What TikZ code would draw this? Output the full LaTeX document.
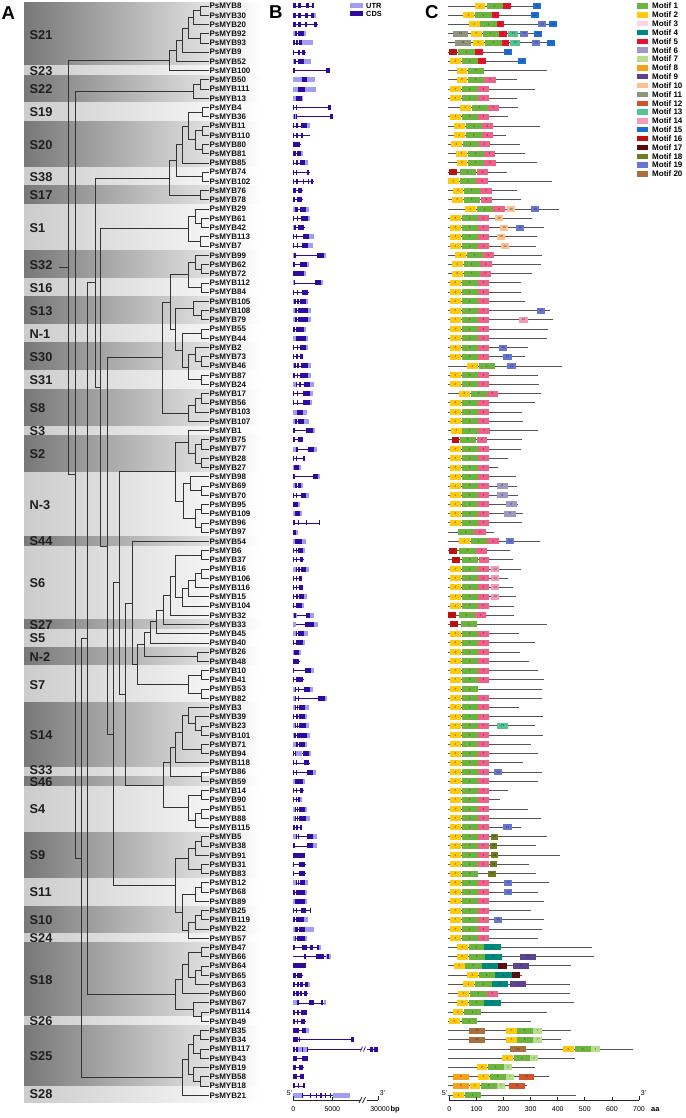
\documentclass[tikz,border=0pt]{standalone}
\usepackage{fontspec}
\setmainfont{Liberation Sans}
\usetikzlibrary{calc}
\definecolor{bandD}{gray}{0.47}
\definecolor{bandL}{gray}{0.80}
\definecolor{treec}{HTML}{333333}
\definecolor{utrc}{HTML}{A09DF3}
\definecolor{cdsc}{HTML}{2E0A9E}
\definecolor{protc}{HTML}{555555}
\definecolor{mc1}{HTML}{6DB33F}
\definecolor{mc2}{HTML}{FFC90E}
\definecolor{mc3}{HTML}{EE6189}
\definecolor{mc3L}{HTML}{FFD3E3}
\definecolor{mc4}{HTML}{00897B}
\definecolor{mc5}{HTML}{E8112D}
\definecolor{mc6}{HTML}{9E9AC4}
\definecolor{mc7}{HTML}{B7DD8E}
\definecolor{mc8}{HTML}{F7A11A}
\definecolor{mc9}{HTML}{5E4392}
\definecolor{mc10}{HTML}{FFBF8E}
\definecolor{mc11}{HTML}{8D957A}
\definecolor{mc12}{HTML}{D2542C}
\definecolor{mc13}{HTML}{55C292}
\definecolor{mc14}{HTML}{F39AB8}
\definecolor{mc15}{HTML}{1C6ED3}
\definecolor{mc16}{HTML}{C3100F}
\definecolor{mc17}{HTML}{5A0B0B}
\definecolor{mc18}{HTML}{6E7E1F}
\definecolor{mc19}{HTML}{6677D2}
\definecolor{mc20}{HTML}{A8703C}
\tikzset{
 gene/.style={anchor=west, inner sep=0.8pt, font=\fontsize{8}{8}\selectfont\bfseries, text=black!92, text height=5.7pt, text depth=0pt},
 sg/.style={anchor=west, inner sep=0pt, font=\fontsize{12.8}{13}\selectfont\bfseries, text=black!88, text height=9.2pt, text depth=0pt},
 panel/.style={anchor=base west, inner sep=0pt, font=\fontsize{18.6}{19}\selectfont\bfseries},
 br/.style={draw=treec, line width=0.75pt},
 intron/.style={draw=cdsc, line width=0.7pt},
 utr/.style={fill=utrc},
 cds/.style={fill=cdsc},
 prot/.style={draw=protc, line width=0.9pt},
 motlab/.style={inner sep=0pt, font=\fontsize{3}{3}\selectfont, text=black!80},
 leg/.style={anchor=west, inner sep=0pt, font=\fontsize{8}{8}\selectfont\bfseries, text height=5.7pt, text depth=0pt},
 axl/.style={inner sep=0pt, font=\fontsize{7}{7}\selectfont, text height=5pt, text depth=0pt},
 axb/.style={inner sep=0pt, font=\fontsize{7.4}{7}\selectfont\bfseries, text height=5pt, text depth=0pt},
 axline/.style={draw=black!85, line width=0.7pt},
}
\newcommand\TN[4]{\path let \p1=($(#3)!0.5!(#4)$) in (#2pt,\y1) coordinate (#1);\draw[br] (#1) |- (#3);\draw[br] (#1) |- (#4);}
\newcommand\Band[5]{\shade[left color=#3, right color=white] (24,#1) rectangle (262,#2);\node[sg] (#4) at (29.5,{(#1+#2)/2}) {#5};}
\newcommand\Gst[4]{\pgfmathsetmacro\ry{6+(#1-1)*9.23}%
 \draw[intron] (293.3,\ry) -- (293.3+#2,\ry);%
 \foreach \uA/\uB in {#3}{\fill[utr] (293.3+\uA,\ry-2.5) rectangle (293.3+\uB,\ry+2.5);}%
 \foreach \uA/\uB in {#4}{\fill[cds] (293.3+\uA,\ry-2.5) rectangle (293.3+\uB,\ry+2.5);}}
\newcommand\Mrow[3]{\pgfmathsetmacro\ry{6+(#1-1)*9.23}%
 \draw[prot] (448,\ry) -- (#2,\ry);%
 \edef\mlist{#3}%
 \foreach \mA/\mB/\mC/\mL in \mlist {\fill[\mC] (\mA,\ry-3) rectangle (\mB,\ry+3);%
  \node[motlab] (mt#1-\mL) at ({(\mA+\mB)/2},\ry) {\mL};}}
\def\Sstd{450/461/mc2/2,462/478/mc1/1,478/489/mc3/3}
\begin{document}
\begin{tikzpicture}[x=1pt,y=-1pt]
\useasboundingbox (0,0) rectangle (685,1118);
% ---------- bands ----------
\Band{3}{66}{bandD}{b1}{S21}
\Band{66}{75.2}{bandL}{b2}{S23}
\Band{75.2}{102.9}{bandD}{b3}{S22}
\Band{102.9}{121.4}{bandL}{b4}{S19}
\Band{121.4}{167.5}{bandD}{b5}{S20}
\Band{167.5}{186}{bandL}{b6}{S38}
\Band{186}{204.5}{bandD}{b7}{S17}
\Band{204.5}{250.6}{bandL}{b8}{S1}
\Band{250.6}{278.3}{bandD}{b9}{S32}
\Band{278.3}{296.7}{bandL}{b10}{S16}
\Band{296.7}{324.4}{bandD}{b11}{S13}
\Band{324.4}{342.9}{bandL}{b12}{N-1}
\Band{342.9}{370.6}{bandD}{b13}{S30}
\Band{370.6}{389}{bandL}{b14}{S31}
\Band{389}{426}{bandD}{b15}{S8}
\Band{426}{435.2}{bandL}{b16}{S3}
\Band{435.2}{472.1}{bandD}{b17}{S2}
\Band{472.1}{536.7}{bandL}{b18}{N-3}
\Band{536.7}{546}{bandD}{b19}{S44}
\Band{546}{619.8}{bandL}{b20}{S6}
\Band{619.8}{629}{bandD}{b21}{S27}
\Band{629}{647.5}{bandL}{b22}{S5}
\Band{647.5}{665.9}{bandD}{b23}{N-2}
\Band{665.9}{702.9}{bandL}{b24}{S7}
\Band{702.9}{767.5}{bandD}{b25}{S14}
\shade[left color=bandL, right color=white] (24,767.5) rectangle (262,776.7);
\shade[left color=bandD, right color=white] (24,776.7) rectangle (262,786);
\node[sg] (b26) at (29.5,770.2) {S33};
\node[sg] (b27) at (29.5,781.6) {S46};
\Band{786}{832.1}{bandL}{b28}{S4}
\Band{832.1}{878.2}{bandD}{b29}{S9}
\Band{878.2}{906}{bandL}{b30}{S11}
\Band{906}{933.6}{bandD}{b31}{S10}
\Band{933.6}{942.8}{bandL}{b32}{S24}
\Band{942.8}{1016.7}{bandD}{b33}{S18}
\Band{1016.7}{1025.9}{bandL}{b34}{S26}
\Band{1025.9}{1086}{bandD}{b35}{S25}
\Band{1086}{1102}{bandL}{b36}{S28}
% ---------- panel letters ----------
\node[panel] (pA) at (1.5,19.3) {A};
\node[panel] (pB) at (269,18.3) {B};
\node[panel] (pC) at (425,18.2) {C};
% ---------- leaves ----------
\foreach \g [count=\i] in {8,30,20,92,93,9,52,100,50,111,13,4,36,11,110,80,81,85,74,102,76,78,29,61,42,113,7,99,62,72,112,84,105,108,79,55,44,2,73,46,87,24,17,56,103,107,1,75,77,28,27,98,69,70,95,109,96,97,54,6,37,16,106,116,15,104,32,33,45,40,26,48,10,41,53,82,3,39,23,101,71,94,118,86,59,14,90,51,88,115,5,38,91,31,83,12,68,89,25,119,22,57,47,66,64,65,63,60,67,114,49,35,34,117,43,19,58,18,21}
{\pgfmathsetmacro\ry{6+(\i-1)*9.23}\node[gene] (r\i) at (208.5,\ry) {PsMYB\g};}
% ---------- tree ----------
\TN{a1}{200}{r1}{r2}
\TN{a2}{193}{a1}{r3}
\TN{a3}{200}{r4}{r5}
\TN{a4}{188}{a2}{a3}
\TN{a5}{182}{a4}{r6}
\TN{a6}{176}{a5}{r7}
\TN{a7}{169}{a6}{r8}
\TN{bb1}{200}{r9}{r10}
\TN{bb2}{193}{bb1}{r11}
\TN{c1}{202}{r12}{r13}
\TN{c2}{202}{r14}{r15}
\TN{c3}{202}{r16}{r17}
\TN{c4}{195}{c2}{c3}
\TN{c5}{188}{c1}{c4}
\TN{c6}{182}{c5}{r18}
\TN{c7}{202}{r19}{r20}
\TN{c8}{176}{c6}{c7}
\TN{c9}{200}{r21}{r22}
\TN{c10}{169}{c8}{c9}
\TN{d1}{201}{r24}{r25}
\TN{d2}{195}{r23}{d1}
\TN{d3}{200}{r26}{r27}
\TN{d4}{188}{d2}{d3}
\TN{e1}{201}{r29}{r30}
\TN{e2}{195}{r28}{e1}
\TN{e3}{201}{r31}{r32}
\TN{e4}{188}{e2}{e3}
\TN{e5}{201}{r34}{r35}
\TN{e6}{193}{r33}{e5}
\TN{e7}{201}{r36}{r37}
\TN{e8}{201}{r39}{r40}
\TN{e9}{195}{r38}{e8}
\TN{e10}{201}{r41}{r42}
\TN{e11}{188}{e9}{e10}
\TN{e12}{182}{e7}{e11}
\TN{e13}{175}{e6}{e12}
\TN{e14}{170}{e4}{e13}
\TN{e15}{201}{r43}{r44}
\TN{e16}{195}{e15}{r45}
\TN{e17}{188}{e16}{r46}
\TN{N7}{162}{e14}{e17}
\TN{f1}{201}{r48}{r49}
\TN{f2}{201}{r50}{r51}
\TN{f3}{195}{f1}{f2}
\TN{f4}{188}{r47}{f3}
\TN{g1}{201}{r53}{r54}
\TN{g2}{190}{r52}{g1}
\TN{g3}{201}{r55}{r56}
\TN{g4}{201}{r57}{r58}
\TN{g5}{195}{g3}{g4}
\TN{g6}{183}{g2}{g5}
\TN{f5}{175}{f4}{g6}
\TN{i1}{201}{r60}{r61}
\TN{i2}{201}{r62}{r63}
\TN{i3}{195}{i2}{r64}
\TN{i4}{188}{i3}{r65}
\TN{i5}{182}{i4}{r66}
\TN{i6}{175}{i1}{i5}
\TN{N18}{170}{i6}{r67}
\TN{N17}{163}{N18}{r68}
\TN{N16}{156}{N17}{r69}
\TN{N15}{150}{N16}{r70}
\TN{h1}{197}{r71}{r72}
\TN{N14}{144}{N15}{h1}
\TN{j1}{201}{r73}{r74}
\TN{j2}{201}{r75}{r76}
\TN{j3}{188}{j1}{j2}
\TN{N13}{137}{N14}{j3}
\TN{N11}{132}{r59}{N13}
\TN{k1}{201}{r79}{r80}
\TN{k2}{195}{r78}{k1}
\TN{k3}{188}{r77}{k2}
\TN{k4}{201}{r81}{r82}
\TN{k5}{182}{k3}{k4}
\TN{k6}{175}{k5}{r83}
\TN{k7}{201}{r84}{r85}
\TN{k8}{170}{k6}{k7}
\TN{l1}{201}{r86}{r87}
\TN{l2}{201}{r88}{r89}
\TN{l3}{195}{l2}{r90}
\TN{l4}{188}{l1}{l3}
\TN{N12}{163}{k8}{l4}
\TN{N10}{125}{N11}{N12}
\TN{N9}{119}{f5}{N10}
\TN{m1}{201}{r91}{r92}
\TN{m2}{195}{m1}{r93}
\TN{m3}{201}{r94}{r95}
\TN{m4}{188}{m2}{m3}
\TN{m5}{201}{r96}{r97}
\TN{m6}{195}{m5}{r98}
\TN{m7}{201}{r99}{r100}
\TN{m8}{195}{m7}{r101}
\TN{m9}{188}{m8}{r102}
\TN{m10}{182}{m6}{m9}
\TN{m11}{175}{m4}{m10}
\TN{N8}{113}{N9}{m11}
\TN{N6}{107}{N7}{N8}
\TN{N5}{100}{d4}{N6}
\TN{N4}{95}{c10}{N5}
\TN{n1}{201}{r103}{r104}
\TN{n2}{201}{r105}{r106}
\TN{n3}{195}{n2}{r107}
\TN{n4}{188}{n1}{n3}
\TN{n5}{182}{n4}{r108}
\TN{n6}{201}{r110}{r111}
\TN{n7}{193}{r109}{n6}
\TN{n8}{175}{n5}{n7}
\TN{N3}{87}{N4}{n8}
\TN{o1}{200}{r112}{r113}
\TN{o2}{200}{r114}{r115}
\TN{o3}{193}{o1}{o2}
\TN{o4}{200}{r117}{r118}
\TN{o5}{193}{r116}{o4}
\TN{o6}{188}{o3}{o5}
\TN{o7}{182}{o6}{r119}
\TN{N2}{81}{N3}{o7}
\TN{N1}{75}{bb2}{N2}
\TN{R}{68}{a7}{N1}
\coordinate (Rs) at ($(R)+(-9,0)$);
\draw[br] (R) -- (Rs);
% ---------- panel B legend ----------
\fill[utrc] (350,3) rectangle (363,8.5);
\node[axb,anchor=west] (lutr) at (366,5.8) {UTR};
\fill[cdsc] (350,11) rectangle (363,16.5);
\node[axb,anchor=west] (lcds) at (366,13.8) {CDS};
% ---------- gene structures ----------
\Gst{1}{21}{0/0}{0/3,5/8,13/15.5,18.5/21}
\Gst{2}{23}{20/23}{0/3,5/8,12/15,18/20.5}
\Gst{3}{25}{0/0}{0/3,5/8,12/14,21/24}
\Gst{4}{13}{0/1.5,11/13}{1.5/4,5/11}
\Gst{5}{20}{9/20}{0/2,3/5,6/9}
\Gst{6}{13}{0/0}{0/1,5/7,9/12}
\Gst{7}{18}{0/1,11/18}{1/3,5/11}
\Gst{8}{36}{0/0}{0/2,33/37}
\Gst{9}{22}{0/22}{9/14}
\Gst{10}{23}{0/23}{5/12}
\Gst{11}{10}{0/10}{3/9}
\Gst{12}{37}{0/0}{0/1,3/4,35/38}
\Gst{13}{40}{0/3}{1/2,3/4,37/40}
\Gst{14}{17}{14/17}{0/1,3/5,8/14}
\Gst{15}{17}{0/0}{0/1,3/5,8/9.5}
\Gst{16}{8}{0/0}{0/7}
\Gst{17}{10}{8/10}{0/3,4/8}
\Gst{18}{15}{12/15}{0/1,3/5,7/12}
\Gst{19}{17}{0/0}{0/1,3/4,14/16}
\Gst{20}{21}{0/0}{0/1,3/5,10/11,15/16,18/20}
\Gst{21}{10}{0/0}{0/3,5/9}
\Gst{22}{10}{0/0}{0/2,4/9}
\Gst{23}{16}{0/2,13/16}{2/5,7/13}
\Gst{24}{17}{15/17}{0/1,4/5,8/15}
\Gst{25}{12}{0/1}{1/3,5/11}
\Gst{26}{21}{16/21}{0/1,3/4,10/16}
\Gst{27}{20}{15/20}{0/1,4/5,9/15}
\Gst{28}{33}{0/1,31/33}{1/3,24/31}
\Gst{29}{16}{14/16}{0/2,7/14}
\Gst{30}{13}{11/13}{0/11}
\Gst{31}{30}{0/2,28/30}{1/2,22/28}
\Gst{32}{16}{0/0}{0/1,4/5,9/15}
\Gst{33}{15}{0/1,13/15}{1/3,4/6,7/13}
\Gst{34}{18}{0/2,15/18}{2/4,5/15}
\Gst{35}{18}{0/2,15/18}{2/4,5/15}
\Gst{36}{13}{11/13}{0/2,3/11}
\Gst{37}{15}{0/3,13/15}{3/13}
\Gst{38}{15}{13/15}{0/1,4/5,7/13}
\Gst{39}{10}{0/0}{0/1,3/5,7/10}
\Gst{40}{18}{0/1,15/18}{1/3,4/6,8/15}
\Gst{41}{18}{15/18}{0/2,4/5,7/15}
\Gst{42}{21}{0/3,17/21}{3/4,6/8,11/17}
\Gst{43}{20}{17/20}{0/1,4/5,10/17}
\Gst{44}{19}{17/19}{0/1,4/5,10/17}
\Gst{45}{14}{0/4,10/14}{4/10}
\Gst{46}{16}{0/2,11/16}{2/4,5/11}
\Gst{47}{22}{20/22}{0/2,13/20}
\Gst{48}{10}{0/0}{0/2,5/10}
\Gst{49}{24}{0/3,21/24}{3/5,15/21}
\Gst{50}{12}{0/0}{0/1,3/4,10/12}
\Gst{51}{8}{0/1,6/8}{1/6}
\Gst{52}{27}{0/1,25/27}{0/2,20/25}
\Gst{53}{10}{0/2,8/10}{2/4,5/8}
\Gst{54}{16}{13/16}{0/1,3/4,8/13}
\Gst{55}{7}{5/7}{0/5}
\Gst{56}{9}{0/2,7/9}{2/7}
\Gst{57}{27}{0/0}{0/2,5/6,13/14,26/27}
\Gst{58}{5}{3/5}{0/3}
\Gst{59}{13}{0/2,9/13}{2/9}
\Gst{60}{12}{10/12}{0/1,3/4,5/10}
\Gst{61}{11}{0/0}{0/1,3/4,7/10}
\Gst{62}{16}{0/3,13/16}{3/4,5/7,8/13}
\Gst{63}{9}{0/0}{0/1,3/4,6/9}
\Gst{64}{10}{0/0}{0/1,3/4,6/10}
\Gst{65}{14}{11/14}{0/1,3/5,6/11}
\Gst{66}{11}{9/11}{0/1,3/9}
\Gst{67}{21}{0/4,17/21}{1/3,13/17}
\Gst{68}{25}{0/3,21/25}{12/21}
\Gst{69}{15}{0/3,11/15}{3/4,5/11}
\Gst{70}{12}{10/12}{0/1,3/10}
\Gst{71}{8}{0/1,6/8}{1/6}
\Gst{72}{7}{0/0}{0/6}
\Gst{73}{21}{18/21}{0/1,12/18}
\Gst{74}{11}{0/0}{0/1,3/10}
\Gst{75}{20}{0/2,17/20}{2/3,5/6,11/17}
\Gst{76}{34}{0/2,32/34}{2/3,5/6,25/32}
\Gst{77}{16}{0/2,12/16}{2/3,4/5,6/12}
\Gst{78}{14}{12/14}{0/1,3/5,6/12}
\Gst{79}{16}{0/2,13/16}{2/3,4/5,6/13}
\Gst{80}{17}{0/1,14/17}{1/3,4/14}
\Gst{81}{14}{0/3,12/14}{3/5,6/12}
\Gst{82}{18}{3/9,16/18}{0/1,2/3,10/16}
\Gst{83}{17}{0/0}{0/1,3/4,11/16}
\Gst{84}{23}{20/23}{0/1,3/4,14/20}
\Gst{85}{12}{0/2,10/12}{2/10}
\Gst{86}{11}{0/0}{0/1,3/4,7/10}
\Gst{87}{9}{7/9}{0/1,3/4,5/7}
\Gst{88}{14}{0/2,12/14}{2/3,4/5,6/12}
\Gst{89}{17}{0/2,13/17}{2/3,4/5,5.5/13}
\Gst{90}{9}{0/0}{0/2,3/5,7/9}
\Gst{91}{24}{0/3,20/24}{3/4,5/6,14/20}
\Gst{92}{24}{0/1,20/24}{0/1.5,14/20}
\Gst{93}{12}{0/0}{0/12}
\Gst{94}{13}{0/0}{0/1,6/12}
\Gst{95}{13}{0/0}{0/1,6/12}
\Gst{96}{15}{0/3,12/15}{3/4,5/6,7/12}
\Gst{97}{14}{12/14}{0/2,3/12}
\Gst{98}{14}{0/2,12/14}{2/12}
\Gst{99}{18}{0/0}{0/1,3/4,8/13,17/18}
\Gst{100}{15}{11/15}{0/2,3/11}
\Gst{101}{21}{0/2,12/21}{2/5,6/12}
\Gst{102}{14}{0/2,12/14}{2/3,4/12}
\Gst{103}{28}{26/28}{0/2,9/14,17/20,24/26}
\Gst{104}{38}{33/38}{11/13,23/31,34/36}
\Gst{105}{13}{0/0}{0/13}
\Gst{106}{10}{0/0}{0/3,4/9}
\Gst{107}{17}{15/17}{0/2,4/6,7/10,12/15}
\Gst{108}{15}{0/0}{0/2,3/6,7/9,11/14}
\Gst{109}{33}{0/4,31/33}{4/6,16/21,28/30}
\Gst{110}{14}{0/0}{0/2,4/6,8/14}
\Gst{111}{13}{0/0}{0/2,4/5,8/12}
\Gst{112}{16}{13/16}{0/6,9/13}
\Gst{113}{61}{0/0}{0/5,5.5/6.5,58/61}
\Gst{114}{68}{5/9,10/14}{0/2,3/5,9/10,14/15}
\pgfmathsetmacro\ry{6+113*9.23}
\draw[intron] (367,\ry) -- (378,\ry);
\fill[cds] (370,\ry-2.5) rectangle (373,\ry+2.5);
\fill[cds] (374,\ry-2.5) rectangle (378,\ry+2.5);
\draw[intron] (360.5,\ry+2.5) -- (362.5,\ry-2.5);
\draw[intron] (363.5,\ry+2.5) -- (365.5,\ry-2.5);
\Gst{115}{15}{0/0}{0/4,9/15}
\Gst{116}{11}{0/0}{0/3,6/10}
\Gst{117}{11}{0/0}{0/4,7/11}
\Gst{118}{12}{0/0}{0/2,5/6,10/12}
\Gst{119}{57}{0/9,40/57}{9/10,17/18,23/24,27/29,32/33,37/38}
% ---------- panel B axis ----------
\draw[axline] (293.3,1100) -- (360,1100);
\draw[axline] (367,1100) -- (378,1100);
\draw[axline] (293.3,1100) -- (293.3,1096);
\draw[axline] (332.3,1100) -- (332.3,1097);
\draw[axline] (378,1100) -- (378,1096);
\draw[axline] (359,1103) -- (362,1097);
\draw[axline] (362.5,1103) -- (365.5,1097);
\node[axl] (b5p) at (289.5,1093) {5'};
\node[axl] (b3p) at (382.5,1093) {3'};
\node[axl] (bt0) at (293.3,1109) {0};
\node[axl] (bt1) at (332.3,1109) {5000};
\node[axl] (bt2) at (380,1109) {30000};
\node[axb,anchor=west] (bbp) at (390.5,1109) {bp};
% ---------- motifs ----------
\Mrow{1}{541}{475/485/mc2/2,487/503/mc1/1,503/511/mc5/5,533/541/mc15/15}
\Mrow{2}{539}{463/474/mc2/2,475/492/mc1/1,492/499/mc5/5,531/539/mc15/15}
\Mrow{3}{557}{469/480/mc2/2,480/497/mc1/1,497/504/mc5/5,538/546/mc19/19,549/557/mc15/15}
\Mrow{4}{542}{453/468/mc11/11,471/482/mc2/2,483/499/mc1/1,499/507/mc5/5,508/518/mc13/13,520/528/mc19/19,534/542/mc15/15}
\Mrow{5}{555}{455/471/mc11/11,473/484/mc2/2,485/502/mc1/1,502/509/mc5/5,510/520/mc13/13,532/540/mc19/19,547/555/mc15/15}
\Mrow{6}{512}{449/457/mc16/16,458/475/mc1/1,475/483/mc5/5,504/512/mc15/15}
\Mrow{7}{526}{450/461/mc2/2,462/478/mc1/1,478/486/mc5/5,518/526/mc15/15}
\Mrow{8}{547}{457/467/mc2/2,468/484/mc1/1}
\Mrow{9}{517}{457/467/mc2/2,468/484/mc1/1,484/496/mc3/3}
\Mrow{10}{535}{\Sstd}
\Mrow{11}{517}{\Sstd}
\Mrow{12}{518}{460/471/mc2/2,472/488/mc1/1,488/499/mc3/3}
\Mrow{13}{508}{\Sstd}
\Mrow{14}{540}{454/465/mc2/2,466/482/mc1/1,482/493/mc3/3}
\Mrow{15}{506}{454/465/mc2/2,466/482/mc1/1,482/493/mc3/3}
\Mrow{16}{520}{451/462/mc2/2,463/479/mc1/1,479/490/mc3/3}
\Mrow{17}{525}{456/467/mc2/2,468/484/mc1/1,484/495/mc3/3}
\Mrow{18}{537}{457/467/mc2/2,468/484/mc1/1,484/496/mc3/3}
\Mrow{19}{507}{449/457/mc16/16,460/476/mc1/1,477/488/mc3/3}
\Mrow{20}{552}{448/459/mc2/2,460/476/mc1/1,476/488/mc3/3}
\Mrow{21}{517}{453/463/mc2/2,464/480/mc1/1,480/492/mc3/3}
\Mrow{22}{521}{452/463/mc2/2,464/480/mc1/1,481/492/mc3/3}
\Mrow{23}{559}{465/476/mc2/2,477/493/mc1/1,493/505/mc3/3,507/515/mc10/10,531/539/mc19/19}
\Mrow{24}{532}{\Sstd,495/503/mc10/10}
\Mrow{25}{544}{\Sstd,500/508/mc10/10,516/524/mc19/19}
\Mrow{26}{537}{\Sstd,497/505/mc10/10}
\Mrow{27}{536}{\Sstd,501/509/mc10/10}
\Mrow{28}{542}{455/466/mc2/2,467/483/mc1/1,483/494/mc3/3}
\Mrow{29}{541}{452/463/mc2/2,464/480/mc1/1,480/492/mc3/3}
\Mrow{30}{532}{452/463/mc2/2,464/480/mc1/1,480/491/mc3/3}
\Mrow{31}{521}{\Sstd}
\Mrow{32}{521}{\Sstd}
\Mrow{33}{525}{\Sstd}
\Mrow{34}{550}{\Sstd,537/545/mc19/19}
\Mrow{35}{553}{\Sstd,519/528/mc14/14}
\Mrow{36}{548}{\Sstd}
\Mrow{37}{547}{\Sstd}
\Mrow{38}{528}{\Sstd,499/507/mc19/19}
\Mrow{39}{525}{\Sstd,503/512/mc19/19}
\Mrow{40}{562}{467/478/mc2/2,479/495/mc1/1,507/516/mc19/19}
\Mrow{41}{538}{\Sstd}
\Mrow{42}{539}{\Sstd}
\Mrow{43}{541}{459/470/mc2/2,471/487/mc1/1,487/498/mc3/3}
\Mrow{44}{535}{\Sstd}
\Mrow{45}{522}{\Sstd}
\Mrow{46}{523}{\Sstd}
\Mrow{47}{538}{451/462/mc2/2,462/478/mc1/1,478/490/mc3/3}
\Mrow{48}{522}{452/459/mc16/16,460/476/mc1/1,477/487/mc3/3}
\Mrow{49}{521}{\Sstd}
\Mrow{50}{508}{\Sstd}
\Mrow{51}{498}{\Sstd}
\Mrow{52}{516}{\Sstd}
\Mrow{53}{517}{\Sstd,497/508/mc6/6}
\Mrow{54}{518}{\Sstd,497/508/mc6/6}
\Mrow{55}{518}{\Sstd,506/517/mc6/6}
\Mrow{56}{523}{\Sstd,504/516/mc6/6}
\Mrow{57}{522}{\Sstd}
\Mrow{58}{494}{458/474/mc1/1,474/486/mc3/3}
\Mrow{59}{540}{459/470/mc2/2,471/487/mc1/1,487/499/mc3/3,506/514/mc19/19}
\Mrow{60}{510}{449/457/mc16/16,459/476/mc1/1,476/487/mc3/3}
\Mrow{61}{513}{452/460/mc16/16,462/478/mc1/1,479/489/mc3/3}
\Mrow{62}{521}{\Sstd,491/499/mc14/14}
\Mrow{63}{508}{\Sstd,491/499/mc14/14}
\Mrow{64}{513}{\Sstd,491/499/mc14/14}
\Mrow{65}{516}{\Sstd,491/499/mc14/14}
\Mrow{66}{514}{\Sstd}
\Mrow{67}{514}{448/456/mc16/16,459/475/mc1/1,475/486/mc3/3}
\Mrow{68}{547}{450/458/mc16/16,461/477/mc1/1}
\Mrow{69}{519}{\Sstd}
\Mrow{70}{535}{\Sstd}
\Mrow{71}{520}{\Sstd}
\Mrow{72}{529}{\Sstd}
\Mrow{73}{538}{\Sstd}
\Mrow{74}{544}{\Sstd}
\Mrow{75}{542}{450/461/mc2/2,462/478/mc1/1}
\Mrow{76}{542}{\Sstd}
\Mrow{77}{519}{\Sstd}
\Mrow{78}{543}{\Sstd}
\Mrow{79}{535}{\Sstd,497/508/mc13/13}
\Mrow{80}{543}{\Sstd}
\Mrow{81}{531}{\Sstd}
\Mrow{82}{538}{\Sstd}
\Mrow{83}{523}{\Sstd}
\Mrow{84}{542}{\Sstd,494/502/mc19/19}
\Mrow{85}{538}{\Sstd}
\Mrow{86}{508}{\Sstd}
\Mrow{87}{500}{\Sstd}
\Mrow{88}{528}{\Sstd}
\Mrow{89}{541}{\Sstd}
\Mrow{90}{521}{\Sstd,503/512/mc19/19}
\Mrow{91}{547}{\Sstd,491/498/mc18/18}
\Mrow{92}{536}{\Sstd,490/497/mc18/18}
\Mrow{93}{560}{\Sstd,491/498/mc18/18}
\Mrow{94}{529}{\Sstd,490/497/mc18/18}
\Mrow{95}{536}{450/461/mc2/2,462/478/mc1/1,488/496/mc18/18}
\Mrow{96}{549}{\Sstd,504/512/mc19/19}
\Mrow{97}{538}{\Sstd,504/512/mc19/19}
\Mrow{98}{544}{\Sstd}
\Mrow{99}{531}{\Sstd}
\Mrow{100}{544}{\Sstd,494/502/mc19/19}
\Mrow{101}{542}{\Sstd}
\Mrow{102}{538}{\Sstd}
\Mrow{103}{592}{457/468/mc2/2,469/484/mc1/1,484/501/mc4/4}
\Mrow{104}{594}{457/468/mc2/2,469/485/mc1/1,485/502/mc4/4,520/536/mc9/9}
\Mrow{105}{571}{454/465/mc2/2,465/482/mc1/1,482/498/mc4/4,498/507/mc17/17,513/529/mc9/9}
\Mrow{106}{522}{467/478/mc2/2,479/495/mc1/1,495/512/mc4/4,512/520/mc17/17}
\Mrow{107}{570}{463/474/mc2/2,475/492/mc1/1,492/508/mc4/4,510/526/mc9/9}
\Mrow{108}{570}{458/469/mc2/2,470/487/mc1/1,487/498/mc3/3}
\Mrow{109}{574}{457/468/mc2/2,469/484/mc1/1,484/501/mc4/4}
\Mrow{110}{547}{453/463/mc2/2,464/481/mc1/1}
\Mrow{111}{531}{449/460/mc2/2,462/477/mc1/1}
\Mrow{112}{571}{469/485/mc20/20,506/517/mc2/2,517/533/mc1/1,533/542/mc7/7}
\Mrow{113}{561}{469/485/mc20/20,506/517/mc2/2,517/533/mc1/1,533/542/mc7/7}
\Mrow{114}{633}{510/526/mc20/20,563/574/mc2/2,575/591/mc1/1,591/600/mc7/7}
\Mrow{115}{575}{502/513/mc2/2,514/530/mc1/1,530/538/mc7/7}
\Mrow{116}{535}{477/487/mc2/2,488/504/mc1/1,504/512/mc7/7}
\Mrow{117}{549}{453/469/mc8/8,478/489/mc2/2,490/506/mc1/1,506/514/mc7/7,519/534/mc12/12}
\Mrow{118}{527}{453/469/mc8/8,470/480/mc2/2,481/497/mc1/1,497/505/mc7/7,509/525/mc12/12}
\Mrow{119}{576}{453/464/mc2/2,465/481/mc1/1}
% ---------- panel C legend ----------
\foreach \k/\col in {1/mc1,2/mc2,3/mc3L,4/mc4,5/mc5,6/mc6,7/mc7,8/mc8,9/mc9,10/mc10,11/mc11,12/mc12,13/mc13,14/mc14,15/mc15,16/mc16,17/mc17,18/mc18,19/mc19,20/mc20}
{\pgfmathsetmacro\ly{6+(\k-1)*8.84}\fill[\col] (637,\ly-2.7) rectangle (648.3,\ly+2.7);\node[leg] (lg\k) at (652,\ly) {Motif \k};}
% ---------- panel C axis ----------
\draw[axline] (449.3,1100) -- (639,1100);
\foreach \k in {0,...,7}{\draw[axline] (449.3+27.1*\k,1100) -- (449.3+27.1*\k,1097);
 \pgfmathtruncatemacro\lab{100*\k}\node[axl] (ct\k) at (449.3+27.1*\k,1109) {\lab};}
\draw[axline] (449.3,1100) -- (449.3,1096);
\draw[axline] (639,1100) -- (639,1096);
\node[axl] (c5p) at (444.5,1093) {5'};
\node[axl] (c3p) at (643.5,1093) {3'};
\node[axb,anchor=west] (caa) at (651,1109) {aa};
\end{tikzpicture}
\end{document}
